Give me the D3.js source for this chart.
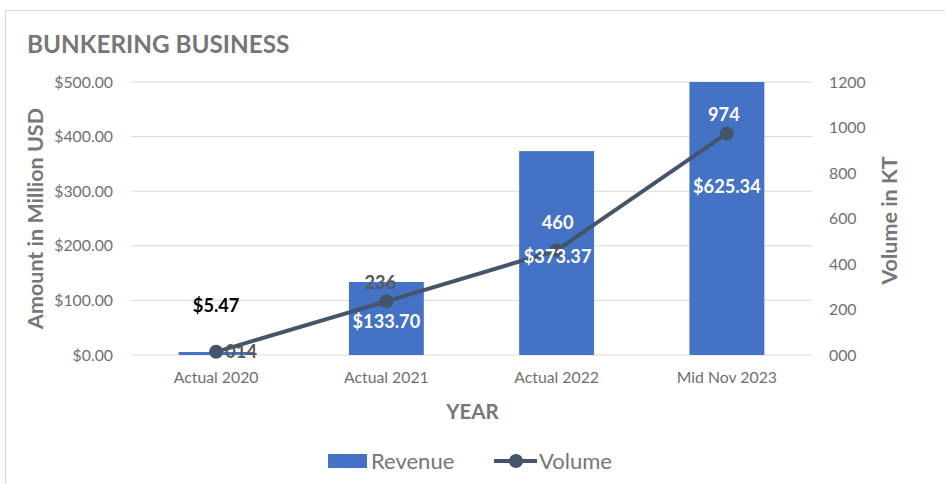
<!DOCTYPE html>
<html>
<head>
<meta charset="utf-8">
<script src="https://cdn.jsdelivr.net/npm/d3@7"></script>
<style>
  body { margin: 0; background: #fff; }
  text { font-family: Lato, "Open Sans", sans-serif; }
</style>
</head>
<body>
<div id="chart"></div>
<script>
const categories = ['Actual 2020', 'Actual 2021', 'Actual 2022', 'Mid Nov 2023'];
const revenue = [5.47, 133.70, 373.37, 625.34];
const volume = [14, 236, 460, 974];
const volumeLabels = ['014', '236', '460', '974'];
const leftTicks = [0, 100, 200, 300, 400, 500];
const rightTicks = [0, 200, 400, 600, 800, 1000, 1200];

// label placement relative to the volume point of each category
const revLabelOffset = [[0, -46], [0, 20], [1, 6], [0, 53]];
const volLabelOffset = [[25, 0], [-6, -19], [1, -28], [-3, -19]];
const revLabelColor = ['#000', '#fff', '#fff', '#fff'];
const volLabelColor = ['#595959', '#595959', '#fff', '#fff'];

const W = 945, H = 484;
const plot = { left: 131, right: 812, top: 82, bottom: 355 };

const svg = d3.select('#chart').append('svg')
    .attr('width', W)
    .attr('height', H);

// chart frame
svg.append('rect')
    .attr('x', 5.5).attr('y', 10.5)
    .attr('width', 960).attr('height', 500)
    .attr('fill', '#fff')
    .attr('stroke', '#d9d9d9');

svg.append('text')
    .attr('x', 27).attr('y', 53)
    .attr('font-size', 24.3)
    .attr('font-weight', 700)
    .attr('fill', '#767676')
    .text('BUNKERING BUSINESS');

const x = d3.scaleBand()
    .domain(categories)
    .range([plot.left, plot.right])
    .paddingInner(0.56)
    .paddingOuter(0.28);

const yL = d3.scaleLinear().domain([0, 500]).range([plot.bottom, plot.top]);
const yR = d3.scaleLinear().domain([0, 1200]).range([plot.bottom, plot.top]);

// gridlines
svg.append('g')
    .selectAll('line')
    .data(leftTicks)
    .join('line')
    .attr('x1', plot.left).attr('x2', plot.right)
    .attr('y1', d => yL(d)).attr('y2', d => yL(d))
    .attr('stroke', '#d9d9d9')
    .attr('stroke-width', 1);

function styleTicks(g) {
    g.select('.domain').remove();
    g.selectAll('text')
        .attr('font-size', 15.8)
        .attr('fill', '#6f6f6f')
        .style('font-family', 'Lato, sans-serif');
}

// left axis
svg.append('g')
    .attr('transform', `translate(${plot.left},0)`)
    .call(d3.axisLeft(yL).tickValues(leftTicks).tickSize(0).tickPadding(18)
        .tickFormat(d => '$' + d3.format('.2f')(d)))
    .call(styleTicks);

// right axis
svg.append('g')
    .attr('transform', `translate(${plot.right},0)`)
    .call(d3.axisRight(yR).tickValues(rightTicks).tickSize(0).tickPadding(17)
        .tickFormat(d => d === 0 ? '000' : d))
    .call(styleTicks);

// bottom axis
svg.append('g')
    .attr('transform', `translate(0,${plot.bottom})`)
    .call(d3.axisBottom(x).tickSize(0).tickPadding(17))
    .call(styleTicks);

// axis titles
svg.append('text')
    .attr('transform', `translate(43,${(plot.top + plot.bottom) / 2}) rotate(-90)`)
    .attr('text-anchor', 'middle')
    .attr('font-size', 21.5)
    .attr('font-weight', 700)
    .attr('fill', '#767676')
    .text('Amount in Million USD');

svg.append('text')
    .attr('transform', `translate(897,${(plot.top + plot.bottom) / 2 + 2}) rotate(-90)`)
    .attr('text-anchor', 'middle')
    .attr('font-size', 21.5)
    .attr('font-weight', 700)
    .attr('fill', '#767676')
    .text('Volume in KT');

svg.append('text')
    .attr('x', (plot.left + plot.right) / 2 + 1)
    .attr('y', 419)
    .attr('text-anchor', 'middle')
    .attr('font-size', 20.5)
    .attr('font-weight', 700)
    .attr('fill', '#767676')
    .text('YEAR');

// bars (clipped at the top of the plot)
svg.append('defs').append('clipPath').attr('id', 'plotClip')
    .append('rect')
    .attr('x', plot.left).attr('y', plot.top)
    .attr('width', plot.right - plot.left).attr('height', plot.bottom - plot.top);

svg.append('g')
    .attr('clip-path', 'url(#plotClip)')
    .selectAll('rect')
    .data(revenue)
    .join('rect')
    .attr('x', (d, i) => x(categories[i]))
    .attr('width', x.bandwidth())
    .attr('y', d => yL(d))
    .attr('height', d => yL(0) - yL(d))
    .attr('fill', '#4472c4');

// volume line
const cx = i => x(categories[i]) + x.bandwidth() / 2;
const line = d3.line()
    .x((d, i) => cx(i))
    .y(d => yR(d));

svg.append('path')
    .datum(volume)
    .attr('d', line)
    .attr('fill', 'none')
    .attr('stroke', '#44546a')
    .attr('stroke-width', 4)
    .attr('stroke-linejoin', 'round');

svg.append('g')
    .selectAll('circle')
    .data(volume)
    .join('circle')
    .attr('cx', (d, i) => cx(i))
    .attr('cy', d => yR(d))
    .attr('r', 7)
    .attr('fill', '#44546a');

// data labels
svg.append('g')
    .selectAll('text')
    .data(volume)
    .join('text')
    .attr('x', (d, i) => cx(i) + volLabelOffset[i][0])
    .attr('y', (d, i) => yR(d) + volLabelOffset[i][1])
    .attr('dy', '0.35em')
    .attr('text-anchor', 'middle')
    .attr('font-size', 18.2)
    .attr('font-weight', 700)
    .attr('fill', (d, i) => volLabelColor[i])
    .text((d, i) => volumeLabels[i]);

svg.append('g')
    .selectAll('text')
    .data(revenue)
    .join('text')
    .attr('x', (d, i) => cx(i) + revLabelOffset[i][0])
    .attr('y', (d, i) => yR(volume[i]) + revLabelOffset[i][1])
    .attr('dy', '0.35em')
    .attr('text-anchor', 'middle')
    .attr('font-size', 18.2)
    .attr('font-weight', 700)
    .attr('fill', (d, i) => revLabelColor[i])
    .text(d => '$' + d3.format('.2f')(d));

// legend
const legend = svg.append('g');
legend.append('rect')
    .attr('x', 328).attr('y', 454)
    .attr('width', 39).attr('height', 14)
    .attr('fill', '#4472c4');
legend.append('text')
    .attr('x', 371).attr('y', 461)
    .attr('dy', '0.35em')
    .attr('font-size', 22)
    .attr('fill', '#767676')
    .text('Revenue');
legend.append('line')
    .attr('x1', 494).attr('x2', 537)
    .attr('y1', 461).attr('y2', 461)
    .attr('stroke', '#44546a')
    .attr('stroke-width', 4);
legend.append('circle')
    .attr('cx', 516).attr('cy', 461)
    .attr('r', 7)
    .attr('fill', '#44546a');
legend.append('text')
    .attr('x', 539).attr('y', 461)
    .attr('dy', '0.35em')
    .attr('font-size', 22)
    .attr('fill', '#767676')
    .text('Volume');
</script>
</body>
</html>
